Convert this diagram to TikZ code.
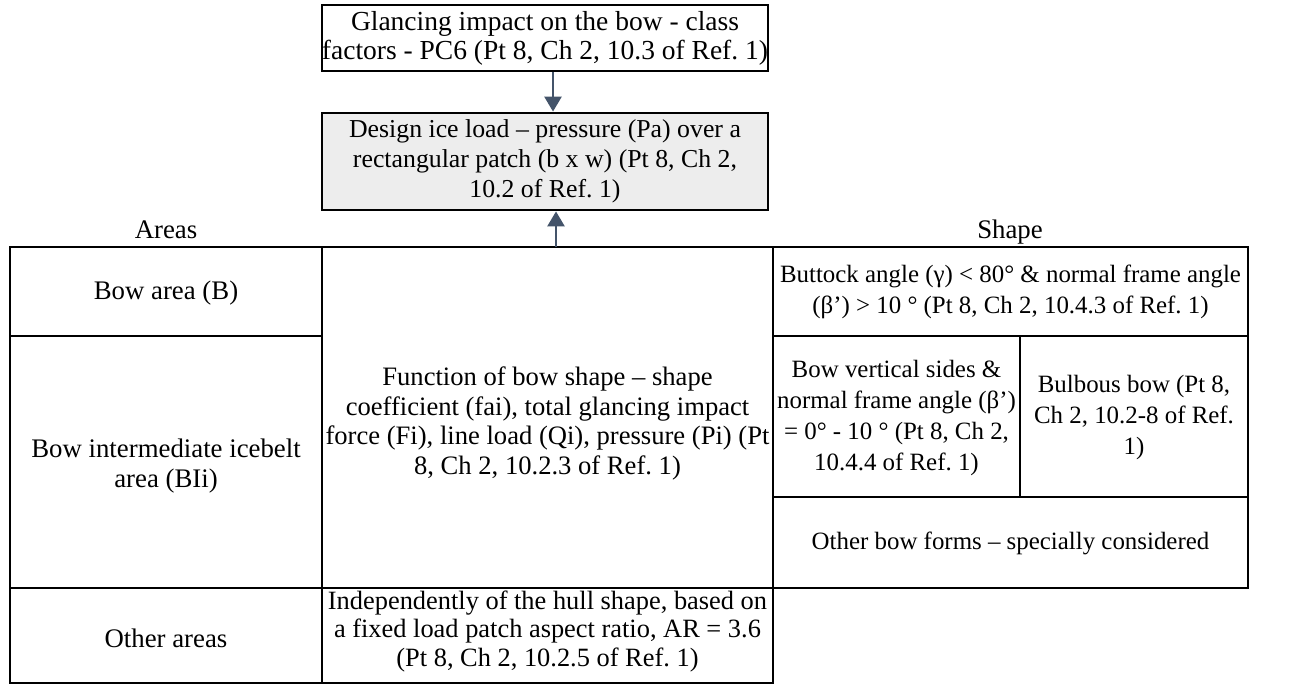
\documentclass[tikz,border=0pt]{standalone}
\usepackage{fontspec}
\setmainfont{Liberation Serif}
\usetikzlibrary{arrows.meta}
\definecolor{arrowblue}{HTML}{44546A}
\definecolor{boxgray}{HTML}{EDEDED}
\frenchspacing
\begin{document}
\begin{tikzpicture}[x=1pt,y=-1pt,
  txt/.style={font=\fontsize{26.8}{29.5}\selectfont, align=center, inner sep=0pt},
  rtxt/.style={font=\fontsize{24.9}{31}\selectfont, align=center, inner sep=0pt},
  cell/.style={draw, line width=2.8pt, inner sep=0pt},
  flow/.style={draw=arrowblue, line width=2.6pt, -{Triangle[width=17pt,length=15pt]}}]
\useasboundingbox (0,0) rectangle (1290,685);
% top boxes
\node[cell, minimum width=446, minimum height=66] (glance) at (545,38) {};
\node[txt, font=\fontsize{27.5}{29}\selectfont] (glancetext) at (glance.center)
  {Glancing impact on the bow - class\\factors - PC6 (Pt 8, Ch 2, 10.3 of Ref. 1)};
\node[cell, fill=boxgray, minimum width=446, minimum height=97] (design) at (545,161.5) {};
\node[txt, font=\fontsize{25.8}{30}\selectfont] (designtext) at (design.center)
  {Design ice load – pressure (Pa) over a\\rectangular patch (b x w) (Pt 8, Ch 2,\\10.2 of Ref. 1)};
% headings
\node[txt, anchor=base] (areas) at (166,238) {Areas};
\node[txt, anchor=base] (shape) at (1010,238) {Shape};
% table cells
\node[cell, minimum width=312, minimum height=89] (bowB) at (166,291.5) {};
\node[cell, minimum width=312, minimum height=252] (bowBI) at (166,462) {};
\node[cell, minimum width=312, minimum height=95] (otherareas) at (166,635.5) {};
\node[cell, minimum width=451, minimum height=341] (func) at (547.5,417.5) {};
\node[cell, minimum width=451, minimum height=95] (indep) at (547.5,635.5) {};
\node[cell, minimum width=475, minimum height=89] (buttock) at (1010.5,291.5) {};
\node[cell, minimum width=247, minimum height=161] (vertical) at (896.5,416.5) {};
\node[cell, minimum width=228, minimum height=161] (bulbous) at (1134,416.5) {};
\node[cell, minimum width=475, minimum height=91] (otherbow) at (1010.5,542.5) {};
% cell texts
\node[txt] (bowBtext) at ([yshift=-2pt]bowB.center) {Bow area (B)};
\node[txt] (bowBItext) at ([yshift=-4pt]bowBI.center) {Bow intermediate icebelt\\area (BIi)};
\node[txt] (otherareastext) at ([yshift=-3pt]otherareas.center) {Other areas};
\node[txt, font=\fontsize{26.6}{29.5}\selectfont] (functext) at ([yshift=-6pt]func.center)
  {Function of bow shape – shape\\coefficient (fai), total glancing impact\\force (Fi), line load (Qi), pressure (Pi) (Pt\\8, Ch 2, 10.2.3 of Ref. 1)};
\node[txt, font=\fontsize{26.4}{28.5}\selectfont] (indeptext) at ([yshift=4pt]indep.center)
  {Independently of the hull shape, based on\\a fixed load patch aspect ratio, AR = 3.6\\(Pt 8, Ch 2, 10.2.5 of Ref. 1)};
\node[rtxt] (buttocktext) at (buttock.center)
  {Buttock angle (γ) < 80° \& normal frame angle\\(β’) > 10 ° (Pt 8, Ch 2, 10.4.3 of Ref. 1)};
\node[rtxt] (verticaltext) at ([yshift=-2pt]vertical.center)
  {Bow vertical sides \&\\normal frame angle (β’)\\= 0° - 10 ° (Pt 8, Ch 2,\\10.4.4 of Ref. 1)};
\node[rtxt] (bulboustext) at ([yshift=-1pt]bulbous.center)
  {Bulbous bow (Pt 8,\\Ch 2, 10.2-8 of Ref.\\1)};
\node[rtxt] (otherbowtext) at ([yshift=-1pt]otherbow.center)
  {Other bow forms – specially considered};
% connectors
\draw[flow] ([xshift=8pt]glance.south) -- ([xshift=8pt]design.north);
\coordinate (tabletop) at (556,247);
\draw[flow] (tabletop) -- (tabletop |- design.south);
\end{tikzpicture}
\end{document}
